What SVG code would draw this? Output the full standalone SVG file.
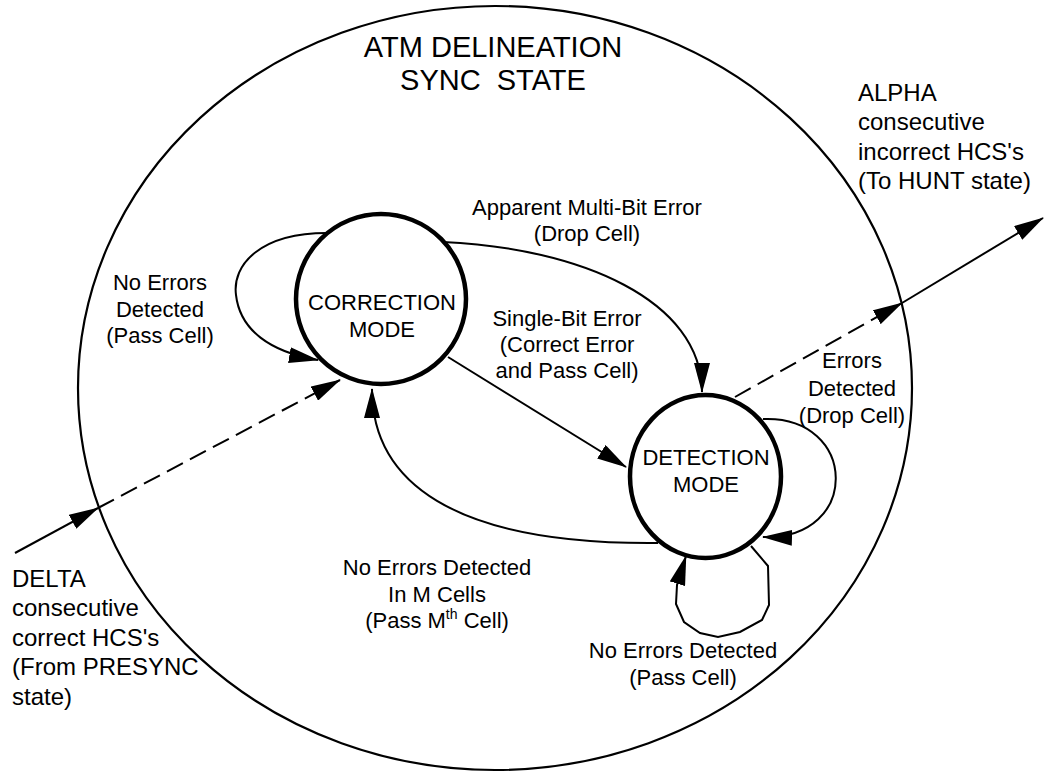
<svg xmlns="http://www.w3.org/2000/svg" width="1044" height="774" viewBox="0 0 1044 774">
<defs>
<style>
text{font-family:"Liberation Sans",Arial,sans-serif;font-size:22px;fill:#000}
.c{text-anchor:middle}
.big{font-size:29px;white-space:pre}
.ext{font-size:24px}
.state{fill:#fff;stroke:#000;stroke-width:4.5}
.outer{fill:none;stroke:#000;stroke-width:2.2}
.edge{fill:none;stroke:#000;stroke-width:2;marker-end:url(#ah)}
.dash{stroke-dasharray:18 8}
</style>
<marker id="ah" markerUnits="userSpaceOnUse" markerWidth="30" markerHeight="16" viewBox="0 0 30 16" refX="29" refY="8" orient="auto">
<path d="M0,0 L30,8 L0,16 z" fill="#000"/>
</marker>
</defs>
<rect width="1044" height="774" fill="#fff"/>

<g id="sync-state">
<ellipse class="outer" cx="495" cy="388" rx="417" ry="382"/>
<text class="c big" x="493" y="57">ATM DELINEATION</text>
<text class="c big" x="493" y="90">SYNC  STATE</text>
</g>

<g id="connectors">
<path class="edge" d="M15 553 L98 508"/>
<path class="edge dash" d="M98 508 L340 380"/>
<path class="edge dash" d="M735 397 L902 303"/>
<path class="edge" d="M902 303 L1043 218"/>
<path class="edge" d="M327 233 C260 233 232 265 236 295 C240 330 270 352 318 360"/>
<path class="edge" d="M443 242 C580 248 702 300 702 392"/>
<path class="edge" d="M448 357 L626 467"/>
<path class="edge" d="M658 543 C450 545 372 480 372 389"/>
<path class="edge" d="M763 419 C858 415 862 540 763 537"/>
<path class="edge" d="M751 546 L768 566 L769 605 L762 620 L740 632 L718 637 L700 633 L684 622 L676 604 L677 585 L686 556"/>
</g>

<g id="correction-mode">
<circle class="state" cx="381" cy="299" r="85"/>
<text class="c" x="382" y="310">CORRECTION</text>
<text class="c" x="382" y="337">MODE</text>
</g>

<g id="detection-mode">
<ellipse class="state" cx="705.5" cy="476.5" rx="75.5" ry="81.5"/>
<text class="c" x="706" y="465">DETECTION</text>
<text class="c" x="706" y="492">MODE</text>
</g>

<g id="labels">
<text class="c" x="160" y="290">No Errors</text>
<text class="c" x="160" y="317">Detected</text>
<text class="c" x="160" y="343">(Pass Cell)</text>

<text class="c" x="587" y="215">Apparent Multi-Bit Error</text>
<text class="c" x="587" y="241">(Drop Cell)</text>

<text class="c" x="567" y="326">Single-Bit Error</text>
<text class="c" x="567" y="352">(Correct Error</text>
<text class="c" x="567" y="378">and Pass Cell)</text>

<text class="c" x="852" y="368">Errors</text>
<text class="c" x="852" y="396">Detected</text>
<text class="c" x="852" y="423">(Drop Cell)</text>

<text class="c" x="437" y="575">No Errors Detected</text>
<text class="c" x="437" y="602">In M Cells</text>
<text class="c" x="437" y="628">(Pass M<tspan font-size="14" dy="-9">th</tspan><tspan dy="9"> Cell)</tspan></text>

<text class="c" x="683" y="658">No Errors Detected</text>
<text class="c" x="683" y="685">(Pass Cell)</text>

<text class="ext" x="858" y="101">ALPHA</text>
<text class="ext" x="858" y="130">consecutive</text>
<text class="ext" x="858" y="160">incorrect HCS's</text>
<text class="ext" x="858" y="189">(To HUNT state)</text>

<text class="ext" x="12" y="587">DELTA</text>
<text class="ext" x="12" y="616">consecutive</text>
<text class="ext" x="12" y="646">correct HCS's</text>
<text class="ext" x="12" y="675">(From PRESYNC</text>
<text class="ext" x="12" y="705">state)</text>
</g>
</svg>
